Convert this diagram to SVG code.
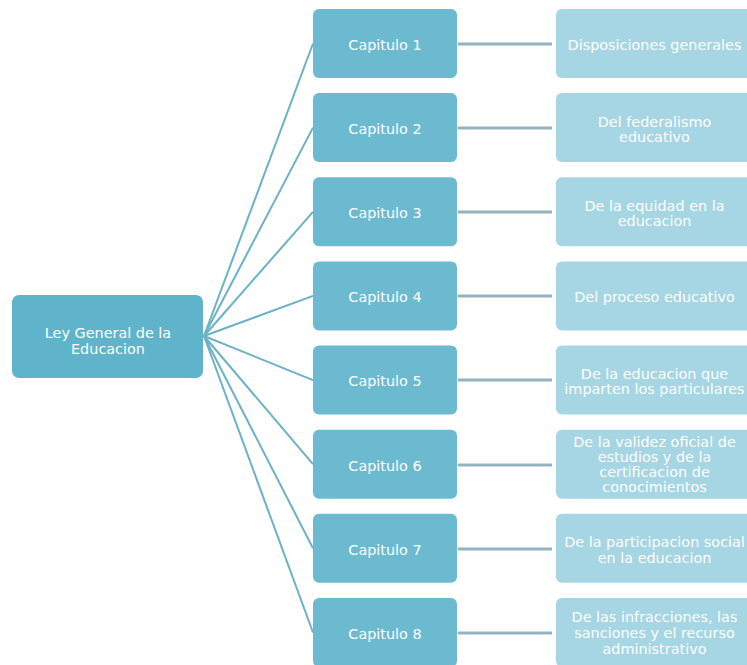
<svg xmlns="http://www.w3.org/2000/svg" width="747" height="665" viewBox="0 0 747 665">
<style>
.root{fill:#5fb4cb}
.cap{fill:#6cbad0}
.desc{fill:#a6d5e3}
text{font-family:"DejaVu Sans","Liberation Sans",sans-serif;font-size:14.4px;fill:#ffffff;text-anchor:middle}
.fan{stroke:#6cb1c6;stroke-width:2;fill:none}
.hl{stroke:#94b3c1;stroke-width:3;fill:none}
</style>
<rect width="747" height="665" fill="#ffffff"/>
<g id="connectors">
<line class="fan" x1="204" y1="336" x2="313" y2="43.5"/>
<line class="fan" x1="204" y1="336" x2="313" y2="127.6"/>
<line class="fan" x1="204" y1="336" x2="313" y2="211.8"/>
<line class="fan" x1="204" y1="336" x2="313" y2="295.9"/>
<line class="fan" x1="204" y1="336" x2="313" y2="380.1"/>
<line class="fan" x1="204" y1="336" x2="313" y2="464.2"/>
<line class="fan" x1="204" y1="336" x2="313" y2="548.3"/>
<line class="fan" x1="204" y1="336" x2="313" y2="632.5"/>
<line class="hl" x1="458" y1="44" x2="552" y2="44"/>
<line class="hl" x1="458" y1="128" x2="552" y2="128"/>
<line class="hl" x1="458" y1="212" x2="552" y2="212"/>
<line class="hl" x1="458" y1="296" x2="552" y2="296"/>
<line class="hl" x1="458" y1="380" x2="552" y2="380"/>
<line class="hl" x1="458" y1="465" x2="552" y2="465"/>
<line class="hl" x1="458" y1="549" x2="552" y2="549"/>
<line class="hl" x1="458" y1="633" x2="552" y2="633"/>
</g>
<g id="root">
<rect class="root" x="12" y="295" width="191" height="83" rx="7"/>
<text x="108" y="338">Ley General de la</text>
<text x="108" y="354">Educacion</text>
</g>
<g id="cap1"><rect class="cap" x="313" y="9" width="144" height="69" rx="6"/><text x="385" y="50">Capitulo 1</text></g>
<g id="cap2"><rect class="cap" x="313" y="93.1" width="144" height="69" rx="6"/><text x="385" y="134">Capitulo 2</text></g>
<g id="cap3"><rect class="cap" x="313" y="177.3" width="144" height="69" rx="6"/><text x="385" y="218">Capitulo 3</text></g>
<g id="cap4"><rect class="cap" x="313" y="261.4" width="144" height="69" rx="6"/><text x="385" y="302">Capitulo 4</text></g>
<g id="cap5"><rect class="cap" x="313" y="345.6" width="144" height="69" rx="6"/><text x="385" y="386">Capitulo 5</text></g>
<g id="cap6"><rect class="cap" x="313" y="429.7" width="144" height="69" rx="6"/><text x="385" y="471">Capitulo 6</text></g>
<g id="cap7"><rect class="cap" x="313" y="513.8" width="144" height="69" rx="6"/><text x="385" y="555">Capitulo 7</text></g>
<g id="cap8"><rect class="cap" x="313" y="598" width="144" height="69" rx="6"/><text x="385" y="639">Capitulo 8</text></g>
<g id="desc1"><rect class="desc" x="556" y="9" width="197" height="69" rx="6"/><text x="654.5" y="50">Disposiciones generales</text></g>
<g id="desc2"><rect class="desc" x="556" y="93.1" width="197" height="69" rx="6"/><text x="654.5" y="127">Del federalismo</text><text x="654.5" y="142">educativo</text></g>
<g id="desc3"><rect class="desc" x="556" y="177.3" width="197" height="69" rx="6"/><text x="654.5" y="211">De la equidad en la</text><text x="654.5" y="226">educacion</text></g>
<g id="desc4"><rect class="desc" x="556" y="261.4" width="197" height="69" rx="6"/><text x="654.5" y="302">Del proceso educativo</text></g>
<g id="desc5"><rect class="desc" x="556" y="345.6" width="197" height="69" rx="6"/><text x="654.5" y="379">De la educacion que</text><text x="654.5" y="394">imparten los particulares</text></g>
<g id="desc6"><rect class="desc" x="556" y="429.7" width="197" height="69" rx="6"/><text x="654.5" y="447">De la validez oficial de</text><text x="654.5" y="462">estudios y de la</text><text x="654.5" y="477">certificacion de</text><text x="654.5" y="492">conocimientos</text></g>
<g id="desc7"><rect class="desc" x="556" y="513.8" width="197" height="69" rx="6"/><text x="654.5" y="547">De la participacion social</text><text x="654.5" y="563">en la educacion</text></g>
<g id="desc8"><rect class="desc" x="556" y="598" width="197" height="69" rx="6"/><text x="654.5" y="622">De las infracciones, las</text><text x="654.5" y="638">sanciones y el recurso</text><text x="654.5" y="654">administrativo</text></g>
</svg>
